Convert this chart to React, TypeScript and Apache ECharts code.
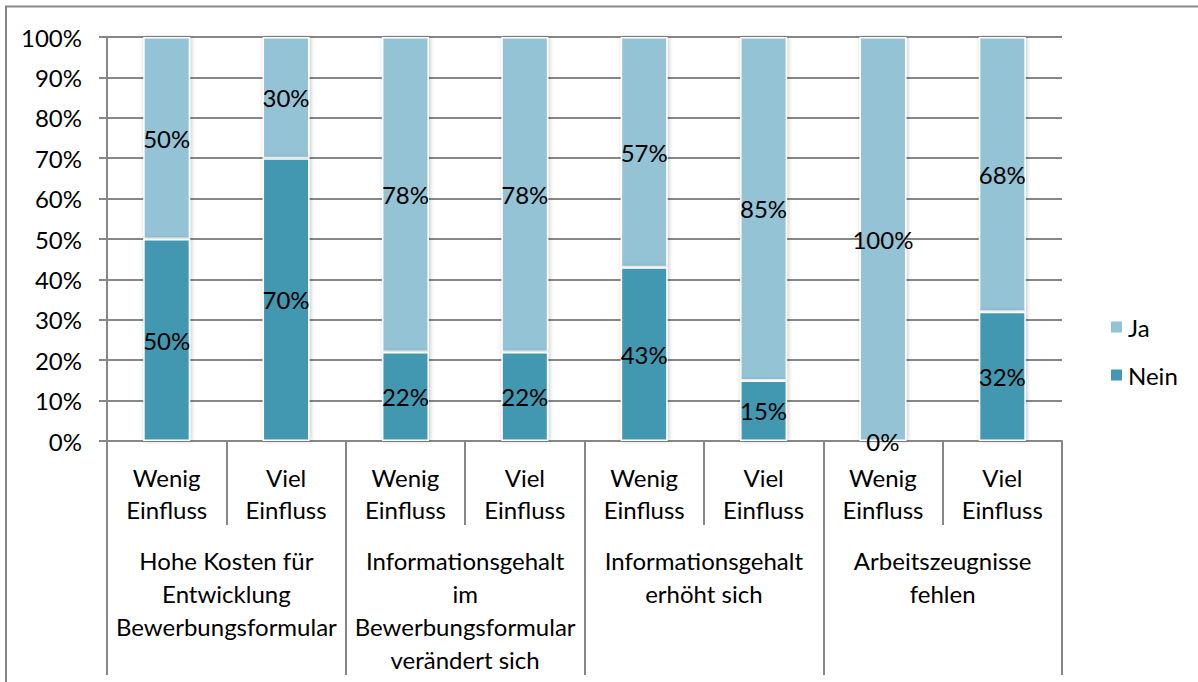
import React, { useEffect, useRef } from "react";
import * as echarts from "echarts";

const subCategories = [
  "Wenig\nEinfluss", "Viel\nEinfluss",
  "Wenig\nEinfluss", "Viel\nEinfluss",
  "Wenig\nEinfluss", "Viel\nEinfluss",
  "Wenig\nEinfluss", "Viel\nEinfluss",
];
const groups = [
  "Hohe Kosten für\nEntwicklung\nBewerbungsformular",
  "Informationsgehalt\nim\nBewerbungsformular\nverändert sich",
  "Informationsgehalt\nerhöht sich",
  "Arbeitszeugnisse\nfehlen",
];
const neinValues = [50, 70, 22, 22, 43, 15, 0, 32];
const jaValues = [50, 30, 78, 78, 57, 85, 100, 68];
const yTicks = [0, 100, 10];

const FONT = "Lato, 'Open Sans', sans-serif";
const FS = 24;
const GRAY = "#878787";

export default function App() {
  const ref = useRef<HTMLDivElement>(null);
  useEffect(() => {
    if (!ref.current) return;
    const chart = echarts.init(ref.current, null, { renderer: "svg" });
    const labelStyle = {
      show: true,
      position: "inside",
      color: "#000",
      fontSize: FS,
      fontFamily: FONT,
      formatter: "{c}%",
    };
    const itemBase = {
      borderColor: "#fff",
      borderWidth: 1.5,
      shadowBlur: 4,
      shadowColor: "rgba(0,0,0,0.25)",
      shadowOffsetX: 1,
    };
    chart.setOption({
      animation: false,
      backgroundColor: "#fff",
      textStyle: { fontFamily: FONT },
      grid: { left: 107, right: 136, top: 37, bottom: 241, containLabel: false },
      legend: {
        orient: "vertical",
        left: 1104,
        top: 310,
        itemWidth: 13,
        itemHeight: 13,
        itemGap: 24,
        icon: "rect",
        data: ["Ja", "Nein"],
        textStyle: { fontSize: FS, color: "#000", fontFamily: FONT },
      },
      xAxis: [
        {
          type: "category",
          data: subCategories,
          position: "bottom",
          axisLine: { show: true, lineStyle: { color: GRAY, width: 2 } },
          axisTick: { show: true, length: 84, interval: 0, lineStyle: { color: GRAY, width: 2 } },
          axisLabel: {
            interval: 0,
            margin: 20,
            fontSize: FS,
            lineHeight: 32,
            color: "#000",
            fontFamily: FONT,
            align: "center",
          },
        },
        {
          type: "category",
          data: groups,
          position: "bottom",
          axisLine: { show: false },
          axisTick: { show: true, length: 234, interval: 0, lineStyle: { color: GRAY, width: 2 } },
          axisLabel: {
            interval: 0,
            margin: 103,
            fontSize: FS,
            lineHeight: 33,
            color: "#000",
            fontFamily: FONT,
            align: "center",
          },
        },
      ],
      yAxis: {
        type: "value",
        min: yTicks[0],
        max: yTicks[1],
        interval: yTicks[2],
        axisLine: { show: true, lineStyle: { color: GRAY, width: 2 } },
        axisTick: { show: true, length: 8, lineStyle: { color: GRAY, width: 2 } },
        splitLine: { show: true, lineStyle: { color: GRAY, width: 2 } },
        axisLabel: {
          formatter: "{value}%",
          margin: 25,
          fontSize: FS,
          color: "#000",
          fontFamily: FONT,
        },
      },
      series: [
        {
          name: "Nein",
          type: "bar",
          stack: "total",
          barWidth: 47,
          data: neinValues,
          itemStyle: { color: "#4298B0", ...itemBase },
          label: labelStyle,
          z: 3,
        },
        {
          name: "Ja",
          type: "bar",
          stack: "total",
          barWidth: 47,
          data: jaValues,
          itemStyle: { color: "#93C3D5", ...itemBase },
          label: labelStyle,
          z: 2,
        },
      ],
      graphic: [
        {
          type: "polyline",
          shape: { points: [[6, 682], [6, 6.5], [1198, 6.5]] },
          style: { stroke: GRAY, lineWidth: 2, fill: null },
          silent: true,
        },
      ],
    });
    return () => chart.dispose();
  }, []);
  return (
    <div
      ref={ref}
      style={{ position: "fixed", left: 0, top: 0, width: 1198, height: 682 }}
    />
  );
}
